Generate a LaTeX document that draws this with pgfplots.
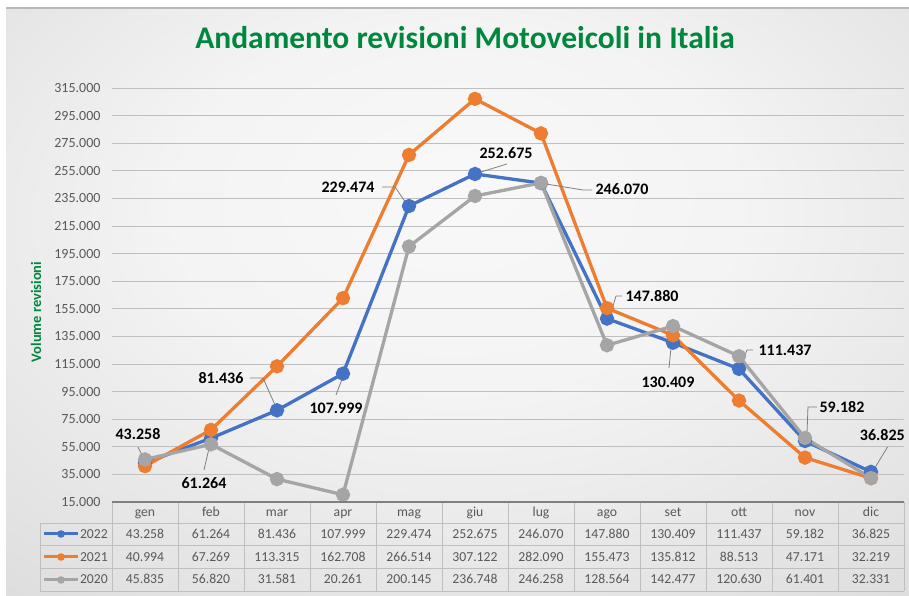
\documentclass[border=0pt]{standalone}
\usepackage{pgfplots}
\pgfplotsset{compat=1.18}
\usepackage{pgfplotstable}
\usepackage{fontspec}
\setmainfont{Carlito}
\definecolor{c22}{HTML}{4472C4}
\definecolor{c21}{HTML}{ED7D31}
\definecolor{c20}{HTML}{A5A5A5}
\definecolor{ttl}{HTML}{00873E}
\definecolor{txt}{HTML}{595959}
\definecolor{grd}{HTML}{BFBFBF}
\definecolor{ldr}{HTML}{7F7F7F}
\definecolor{axl}{HTML}{808080}

\pgfplotstableread{
x m y22 y21 y20
0 gen 43258 40994 45835
1 feb 61264 67269 56820
2 mar 81436 113315 31581
3 apr 107999 162708 20261
4 mag 229474 266514 200145
5 giu 252675 307122 236748
6 lug 246070 282090 246258
7 ago 147880 155473 128564
8 set 130409 135812 142477
9 ott 111437 88513 120630
10 nov 59182 47171 61401
11 dic 36825 32219 32331
}\data

\pgfdeclareradialshading{bgshade}{\pgfpoint{0bp}{10bp}}{rgb(0bp)=(0.975,0.975,0.975); rgb(16bp)=(0.955,0.955,0.955); rgb(50bp)=(0.83,0.83,0.83); rgb(80bp)=(0.80,0.80,0.80)}

\begin{document}
\begin{tikzpicture}[x=1pt,y=1pt,
  lbl/.style={font=\fontsize{16}{19}\selectfont\bfseries, text=black, inner sep=0},
  ldrs/.style={ldr, line width=0.8pt},
  tt/.style={anchor=base, inner sep=0, font=\fontsize{13.7}{16}\selectfont, text=txt}]
\path[use as bounding box] (0,0) rectangle (909,596);
\fill[white] (0,0) rectangle (909,596);
\shade[shading=bgshade] (6,0) rectangle (909,588);
\draw[gray!55, line width=1.5pt] (6,588) -- (909,588);

\node[anchor=base, inner sep=0, font=\fontsize{31.5}{38}\selectfont\bfseries, text=ttl] at (465,547) {Andamento revisioni Motoveicoli in Italia};
\node[rotate=90, inner sep=0, font=\fontsize{14.5}{17}\selectfont\bfseries, text=ttl] at (36,284) {Volume revisioni};

\begin{axis}[
  at={(112pt,94pt)}, anchor=south west, scale only axis,
  width=792pt, height=414pt,
  xmin=-0.5, xmax=11.5, ymin=15000, ymax=315000,
  xtick=\empty,
  ytick={15000,35000,55000,75000,95000,115000,135000,155000,175000,195000,215000,235000,255000,275000,295000,315000},
  ymajorgrids, grid style={grd, line width=0.9pt},
  axis line style={draw=none}, major tick length=0pt,
  yticklabel style={font=\fontsize{14}{16}\selectfont, text=txt, xshift=-8pt,
    /pgf/number format/fixed, /pgf/number format/precision=0,
    /pgf/number format/1000 sep={.}, /pgf/number format/assume math mode=true},
  scaled y ticks=false,
  clip=false,
]
\addplot[c22, line width=3.3pt, mark=*, mark size=5.5pt, mark options={solid}] table[x=x,y=y22]{\data};
\addplot[c21, line width=3.3pt, mark=*, mark size=5.5pt, mark options={solid}] table[x=x,y=y21]{\data};
\addplot[c20, line width=3.3pt, mark=*, mark size=5.5pt, mark options={solid}] table[x=x,y=y20]{\data};

% data labels with leader lines (2022 series)
\draw[ldrs] (axis cs:-0.106,54855) -- (axis cs:-0.03,47500);
\node[lbl] at (axis cs:-0.106,64275) {43.258};
\draw[ldrs] (axis cs:0.894,38188) -- (axis cs:0.985,57000);
\node[lbl] at (axis cs:0.894,28768) {61.264};
\draw[ldrs] (axis cs:1.591,104855) -- (axis cs:1.788,104855) -- (axis cs:1.97,85290);
\node[lbl] at (axis cs:1.152,104855) {81.436};
\draw[ldrs] (axis cs:2.894,92536) -- (axis cs:2.985,104000);
\node[lbl] at (axis cs:2.894,83116) {107.999};
\draw[ldrs] (axis cs:3.591,243262) -- (axis cs:3.788,243262) -- (axis cs:3.955,231667);
\node[lbl] at (axis cs:3.076,243262) {229.474};
\draw[ldrs] (axis cs:5.485,259928) -- (axis cs:5.09,254131);
\node[lbl] at (axis cs:5.47,267899) {252.675};
\draw[ldrs] (axis cs:6.773,241087) -- (axis cs:6.636,241087) -- (axis cs:6.076,245436);
\node[lbl] at (axis cs:7.227,241812) {246.070};
\draw[ldrs] (axis cs:7.227,164276) -- (axis cs:7.136,164276) -- (axis cs:7.06,152000);
\node[lbl] at (axis cs:7.682,164276) {147.880};
\draw[ldrs] (axis cs:7.939,112102) -- (axis cs:7.97,127000);
\node[lbl] at (axis cs:7.924,101957) {130.409};
\draw[ldrs] (axis cs:9.212,125145) -- (axis cs:9.121,125145) -- (axis cs:9.045,115500);
\node[lbl] at (axis cs:9.697,125145) {111.437};
\draw[ldrs] (axis cs:10.18,83841) -- (axis cs:10.045,83841) -- (axis cs:10.03,64500);
\node[lbl] at (axis cs:10.561,83841) {59.182};
\draw[ldrs] (axis cs:11.25,54855) -- (axis cs:11.076,41087);
\node[lbl, anchor=east] at (axis cs:11.515,63551) {36.825};
\end{axis}

% data table
\draw[grd, line width=0.9pt] (40,73) -- (904,73) (40,51) -- (904,51) (40,28) -- (904,28) (40,5) -- (904,5) (40,73) -- (40,5);
\foreach \k in {0,...,12} {\draw[grd, line width=0.9pt] ({112+66*\k},94) -- ({112+66*\k},5);}
\draw[axl, line width=1.3pt] (112,94) -- (904,94);

\foreach \i in {0,...,11} {
  \pgfplotstablegetelem{\i}{m}\of\data
  \node[tt] at ({145+66*\i},79) {\pgfplotsretval};
  \pgfplotstablegetelem{\i}{y22}\of\data
  \node[tt] at ({145+66*\i},57) {\pgfmathprintnumber[fixed,precision=0,1000 sep={.},assume math mode=true]{\pgfplotsretval}};
  \pgfplotstablegetelem{\i}{y21}\of\data
  \node[tt] at ({145+66*\i},34) {\pgfmathprintnumber[fixed,precision=0,1000 sep={.},assume math mode=true]{\pgfplotsretval}};
  \pgfplotstablegetelem{\i}{y20}\of\data
  \node[tt] at ({145+66*\i},12) {\pgfmathprintnumber[fixed,precision=0,1000 sep={.},assume math mode=true]{\pgfplotsretval}};
}

% legend keys in the table
\draw[c22, line width=3pt] (44,62) -- (78,62); \fill[c22] (61,62) circle (3.8);
\draw[c21, line width=3pt] (44,39) -- (78,39); \fill[c21] (61,39) circle (3.8);
\draw[c20, line width=3pt] (44,16) -- (78,16); \fill[c20] (61,16) circle (3.8);
\node[tt, anchor=base east] at (108,57) {2022};
\node[tt, anchor=base east] at (108,34) {2021};
\node[tt, anchor=base east] at (108,12) {2020};
\end{tikzpicture}
\end{document}
